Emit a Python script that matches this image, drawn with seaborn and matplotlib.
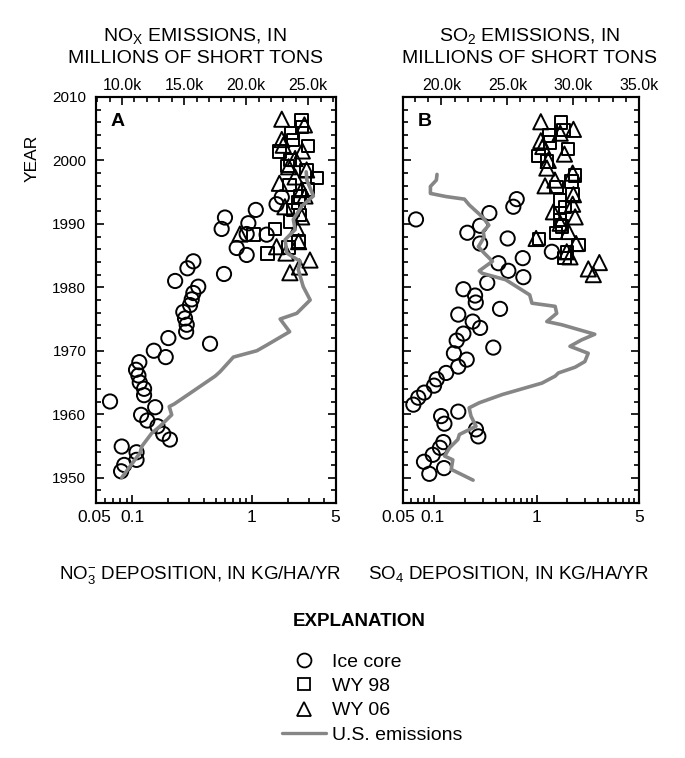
import matplotlib
matplotlib.use("Agg")
import matplotlib.pyplot as plt
import seaborn as sns
from matplotlib.ticker import FixedLocator, FixedFormatter, MultipleLocator, NullFormatter
from matplotlib.transforms import ScaledTranslation
from matplotlib.lines import Line2D

sns.set_style("ticks")
plt.rcParams['font.family'] = ['Liberation Sans', 'DejaVu Sans']
plt.rcParams['mathtext.default'] = 'regular'
for key in ('text.color', 'axes.labelcolor', 'xtick.color', 'ytick.color', 'axes.edgecolor'):
    plt.rcParams[key] = 'black'
GRAY = '#868686'

# ---- Panel A: nitrate ----
ice_no3_year = [1951.0, 1952.0, 1952.8, 1954.0, 1954.9, 1956.0, 1956.9, 1958.1, 1959.0, 1959.9,
                1961.1, 1962.0, 1963.0, 1964.0, 1965.0, 1966.1, 1967.0, 1968.2, 1969.0, 1970.0,
                1971.1, 1972.0, 1973.0, 1974.1, 1975.1, 1976.1, 1977.2, 1978.1, 1979.1, 1980.1,
                1981.0, 1982.1, 1983.0, 1984.1, 1985.1, 1986.2, 1988.3, 1988.4, 1989.2, 1990.1,
                1991.0, 1992.2, 1993.1, 1994.2]
ice_no3 = [0.081, 0.086, 0.109, 0.109, 0.082, 0.207, 0.182, 0.163, 0.134, 0.119,
           0.156, 0.0655, 0.126, 0.126, 0.116, 0.113, 0.108, 0.115, 0.191, 0.152,
           0.448, 0.201, 0.283, 0.286, 0.277, 0.268, 0.305, 0.315, 0.325, 0.357,
           0.229, 0.586, 0.290, 0.325, 0.906, 0.748, 1.33, 0.906, 0.560, 0.936,
           0.597, 1.08, 1.61, 1.78]

wy98_no3_year = [2006.3, 2005.3, 2004.3, 2003.2, 2002.3, 2001.4, 2000.1, 1999.1, 1998.4, 1997.2,
                 1996.1, 1995.4, 1994.3, 1993.4, 1992.2, 1991.4, 1990.4, 1989.2, 1988.3, 1987.2,
                 1986.3, 1985.3]
wy98_no3 = [2.61, 2.64, 2.15, 2.22, 2.96, 1.70, 2.08, 1.98, 2.87, 3.52,
            2.06, 2.96, 2.53, 2.46, 2.22, 2.53, 2.08, 1.56, 1.03, 2.46,
            2.03, 1.35]

wy06_no3_year = [2006.5, 2005.6, 2003.3, 2002.4, 2001.5, 2000.3, 1999.0, 1998.5, 1997.4, 1996.4,
                 1995.4, 1994.4, 1992.7, 1991.1, 1989.3, 1988.4, 1987.2, 1986.4, 1985.4, 1984.3,
                 1983.2, 1982.3]
wy06_no3 = [1.78, 2.75, 1.78, 1.83, 2.64, 2.30, 2.03, 2.87, 2.30, 1.70,
            2.61, 2.78, 1.89, 2.61, 2.38, 0.796, 2.46, 1.61, 1.93, 3.06,
            2.50, 2.08]

# U.S. NOx emissions (thousand short tons, top axis)
nox_year = [1950.0, 1953.9, 1954.9, 1957.0, 1958.1, 1959.9, 1961.2, 1961.6, 1963.3, 1966.0,
            1966.7, 1969.0, 1970.0, 1970.9, 1973.0, 1975.0, 1975.9, 1978.0, 1980.1, 1982.8,
            1984.1, 1985.4, 1987.5, 1989.1, 1990.7, 1992.8, 1994.4, 1996.9, 1998.2]
nox_kt = [9.97, 11.45, 11.58, 12.39, 13.06, 14.0, 13.8, 14.2, 15.48, 17.5,
          17.9, 18.97, 20.86, 21.67, 23.5, 22.74, 24.08, 25.16, 24.6, 24.2,
          24.35, 23.28, 23.14, 23.95, 23.8, 24.49, 25.42, 24.89, 24.84]

# ---- Panel B: sulfate ----
ice_so4_year = [1950.6, 1951.5, 1952.5, 1953.6, 1954.7, 1955.6, 1956.5, 1957.6, 1958.5, 1959.7,
                1960.4, 1961.5, 1962.6, 1963.4, 1964.5, 1965.5, 1966.5, 1967.5, 1968.6, 1969.6,
                1970.5, 1971.6, 1972.7, 1973.6, 1974.6, 1975.7, 1976.6, 1977.6, 1978.7, 1979.7,
                1980.7, 1981.6, 1982.6, 1983.8, 1984.6, 1985.6, 1986.9, 1987.7, 1988.6, 1989.7,
                1990.7, 1991.7, 1992.7, 1993.9]
ice_so4 = [0.0897, 0.125, 0.0796, 0.097, 0.114, 0.123, 0.270, 0.256, 0.126, 0.117,
           0.172, 0.0627, 0.070, 0.080, 0.0998, 0.106, 0.131, 0.172, 0.208, 0.156,
           0.378, 0.166, 0.193, 0.281, 0.238, 0.172, 0.44, 0.255, 0.251, 0.193,
           0.330, 0.743, 0.53, 0.424, 0.733, 1.41, 0.281, 0.522, 0.211, 0.281,
           0.0665, 0.346, 0.593, 0.64]

wy98_so4_year = [2006.0, 2004.8, 2003.9, 2002.8, 2001.8, 2000.7, 1999.8, 1997.6, 1996.7, 1995.8,
                 1994.6, 1993.7, 1992.7, 1991.7, 1990.6, 1989.6, 1988.6, 1987.6, 1986.7, 1985.5,
                 1984.6]
wy98_so4 = [1.73, 1.83, 1.33, 1.35, 2.04, 1.04, 1.26, 2.38, 2.20, 1.57,
            2.25, 1.70, 1.90, 1.70, 1.69, 1.76, 1.55, 1.06, 2.56, 1.97,
            1.87]

wy06_so4_year = [2006.1, 2004.9, 2004.3, 2003.1, 2002.2, 2001.0, 2000.0, 1998.8, 1998.0, 1996.9,
                 1996.0, 1994.6, 1993.1, 1991.9, 1991.1, 1990.1, 1988.8, 1987.7, 1986.9, 1985.6,
                 1984.8, 1983.9, 1982.9, 1982.0]
wy06_so4 = [1.10, 2.29, 1.70, 1.10, 1.15, 1.87, 1.30, 1.26, 2.25, 1.51,
            1.21, 2.29, 2.25, 1.46, 2.38, 1.70, 2.04, 0.99, 2.43, 1.97,
            2.12, 4.10, 3.20, 3.58]

# U.S. SO2 emissions (thousand short tons, top axis)
so2_year = [1949.6, 1951.3, 1952.8, 1953.4, 1954.7, 1956.0, 1956.8, 1958.1, 1959.7, 1961.0,
            1961.8, 1963.1, 1964.9, 1966.0, 1966.5, 1967.4, 1968.3, 1969.6, 1970.7, 1971.7,
            1972.6, 1974.1, 1974.6, 1975.9, 1977.0, 1977.5, 1978.8, 1981.2, 1982.2, 1982.6,
            1984.1, 1985.4, 1986.4, 1987.9, 1988.8, 1989.8, 1991.1, 1993.0, 1993.9, 1994.3,
            1994.8, 1995.9, 1996.9, 1997.8]
so2_kt = [22.4, 20.74, 20.86, 20.24, 20.61, 21.24, 21.36, 22.62, 22.24, 22.1,
          22.87, 24.62, 27.63, 28.63, 28.88, 30.14, 30.89, 31.14, 29.76, 30.63,
          31.64, 29.13, 28.0, 28.75, 28.63, 26.87, 26.7, 24.87, 23.1, 22.87,
          23.87, 23.24, 22.8, 23.24, 23.17, 23.6, 23.1, 22.1, 21.74, 20.36,
          19.16, 19.16, 19.61, 19.66]

year_lim = (1946, 2010)
year_ticks = [1950, 1960, 1970, 1980, 1990, 2000, 2010]

fig = plt.figure(figsize=(6.85, 7.58), dpi=100)
axA = fig.add_axes([96 / 685, 1 - 503 / 758, 239.5 / 685, 406 / 758])
axB = fig.add_axes([403.3 / 685, 1 - 503 / 758, 235.7 / 685, 406 / 758])


def draw_panel(ax, ice_y, ice_x, w98_y, w98_x, w06_y, w06_x, em_y, em_x,
               xmax, xticks, xlabels, top_lim, top_ticks, letter, ylabels, label_shift):
    sns.scatterplot(x=ice_x, y=ice_y, ax=ax, marker='o', s=105,
                    facecolor='none', edgecolor='black', linewidth=1.4, zorder=3)
    sns.scatterplot(x=w98_x, y=w98_y, ax=ax, marker='s', s=80,
                    facecolor='none', edgecolor='black', linewidth=1.4, zorder=3)
    sns.scatterplot(x=w06_x, y=w06_y, ax=ax, marker='^', s=120,
                    facecolor='none', edgecolor='black', linewidth=1.4, zorder=3)
    ax.set_xscale('log')
    ax.set_xlim(0.05, xmax)
    ax.xaxis.set_major_locator(FixedLocator(xticks))
    ax.xaxis.set_major_formatter(FixedFormatter(xlabels))
    minors = [k * 10.0 ** e for e in (-2, -1, 0) for k in range(2, 10)]
    ax.xaxis.set_minor_locator(FixedLocator([m for m in minors if 0.05 < m < xmax]))
    ax.xaxis.set_minor_formatter(NullFormatter())
    ax.yaxis.set_major_locator(FixedLocator(year_ticks))
    ax.yaxis.set_minor_locator(MultipleLocator(2))
    if not ylabels:
        ax.set_yticklabels([])
    ax.tick_params(which='both', direction='in', left=True, right=True, bottom=True, top=False,
                   width=1.2, color='black')
    ax.tick_params(which='major', length=6)
    ax.tick_params(which='minor', length=3.5)
    ax.tick_params(axis='y', labelsize=11, pad=7)
    ax.tick_params(axis='x', labelsize=12.5, pad=5)
    ax.set_xlabel('')
    ax.set_ylabel('')

    top = ax.twiny()
    sns.lineplot(x=em_x, y=em_y, ax=top, sort=False, estimator=None,
                 color=GRAY, linewidth=2.6, zorder=2)
    top.set_xlim(*top_lim)
    top.xaxis.set_major_locator(FixedLocator(top_ticks))
    top.xaxis.set_major_formatter(FixedFormatter([f"{t:.1f}k" for t in top_ticks]))
    top.xaxis.set_minor_locator(MultipleLocator(1))
    top.tick_params(which='both', direction='in', top=True, bottom=False, width=1.2,
                    labelsize=11.5, pad=3)
    top.tick_params(which='major', length=6)
    top.tick_params(which='minor', length=3.5)
    top.set_xlabel('')
    top.set_ylabel('')
    for a in (ax, top):
        for sp in a.spines.values():
            sp.set_linewidth(1.5)
            sp.set_color('black')
    ax.set_ylim(*year_lim)
    top.set_ylim(*year_lim)
    ax.text(0.06, 0.94, letter, transform=ax.transAxes, fontsize=14, fontweight='bold',
            ha='left', va='center')
    # nudge crowded bottom labels apart
    for tick, dx in zip(ax.xaxis.get_major_ticks(), label_shift):
        lab = tick.label1
        lab.set_transform(lab.get_transform() + ScaledTranslation(dx / 100, 0, fig.dpi_scale_trans))


draw_panel(axA, ice_no3_year, ice_no3, wy98_no3_year, wy98_no3, wy06_no3_year, wy06_no3,
           nox_year, nox_kt, 5, [0.05, 0.1, 1, 5], ['0.05', '0.1', '1', '5'],
           (7.9, 27.2), [10, 15, 20, 25], 'A', True, [-2, 0, 0, 0])
draw_panel(axB, ice_so4_year, ice_so4, wy98_so4_year, wy98_so4, wy06_so4_year, wy06_so4,
           so2_year, so2_kt, 10, [0.05, 0.1, 1, 10], ['0.05', '0.1', '1', '5'],
           (17.1, 35.0), [20, 25, 30, 35], 'B', False, [-5, -2, 0, 0])

# titles above panels
fig.text(195 / 685, 1 - 36 / 758, 'NO$_X$ EMISSIONS, IN', ha='center', va='center', fontsize=14)
fig.text(195 / 685, 1 - 58.5 / 758, 'MILLIONS OF SHORT TONS', ha='center', va='center', fontsize=14)
fig.text(529 / 685, 1 - 36 / 758, 'SO$_2$ EMISSIONS, IN', ha='center', va='center', fontsize=14)
fig.text(529 / 685, 1 - 58.5 / 758, 'MILLIONS OF SHORT TONS', ha='center', va='center', fontsize=14)

fig.text(32 / 685, 1 - 158 / 758, 'YEAR', rotation=90, ha='center', va='center', fontsize=12.5)

fig.text(200 / 685, 1 - 579 / 758, 'NO$_3^{-}$ DEPOSITION, IN KG/HA/YR', ha='center',
         va='baseline', fontsize=13.5)
fig.text(508 / 685, 1 - 579 / 758, 'SO$_4$ DEPOSITION, IN KG/HA/YR', ha='center',
         va='baseline', fontsize=13.5)

# explanation
fig.text(359 / 685, 1 - 621.5 / 758, 'EXPLANATION', ha='center', va='center',
         fontsize=13.5, fontweight='bold')
handles = [
    Line2D([], [], ls='none', marker='o', ms=10, mfc='none', mec='black', mew=1.3),
    Line2D([], [], ls='none', marker='s', ms=9, mfc='none', mec='black', mew=1.3),
    Line2D([], [], ls='none', marker='^', ms=10.5, mfc='none', mec='black', mew=1.3),
    Line2D([], [], color=GRAY, lw=2.4),
]
fig.legend(handles, ['Ice core', 'WY 98', 'WY 06', 'U.S. emissions'],
           loc='upper left', bbox_to_anchor=(281.7 / 685, 1 - 653 / 758),
           frameon=False, fontsize=14, handlelength=2.3, handletextpad=0.3,
           labelspacing=0.35, borderpad=0, borderaxespad=0)

fig.savefig('out.png', dpi=100)
